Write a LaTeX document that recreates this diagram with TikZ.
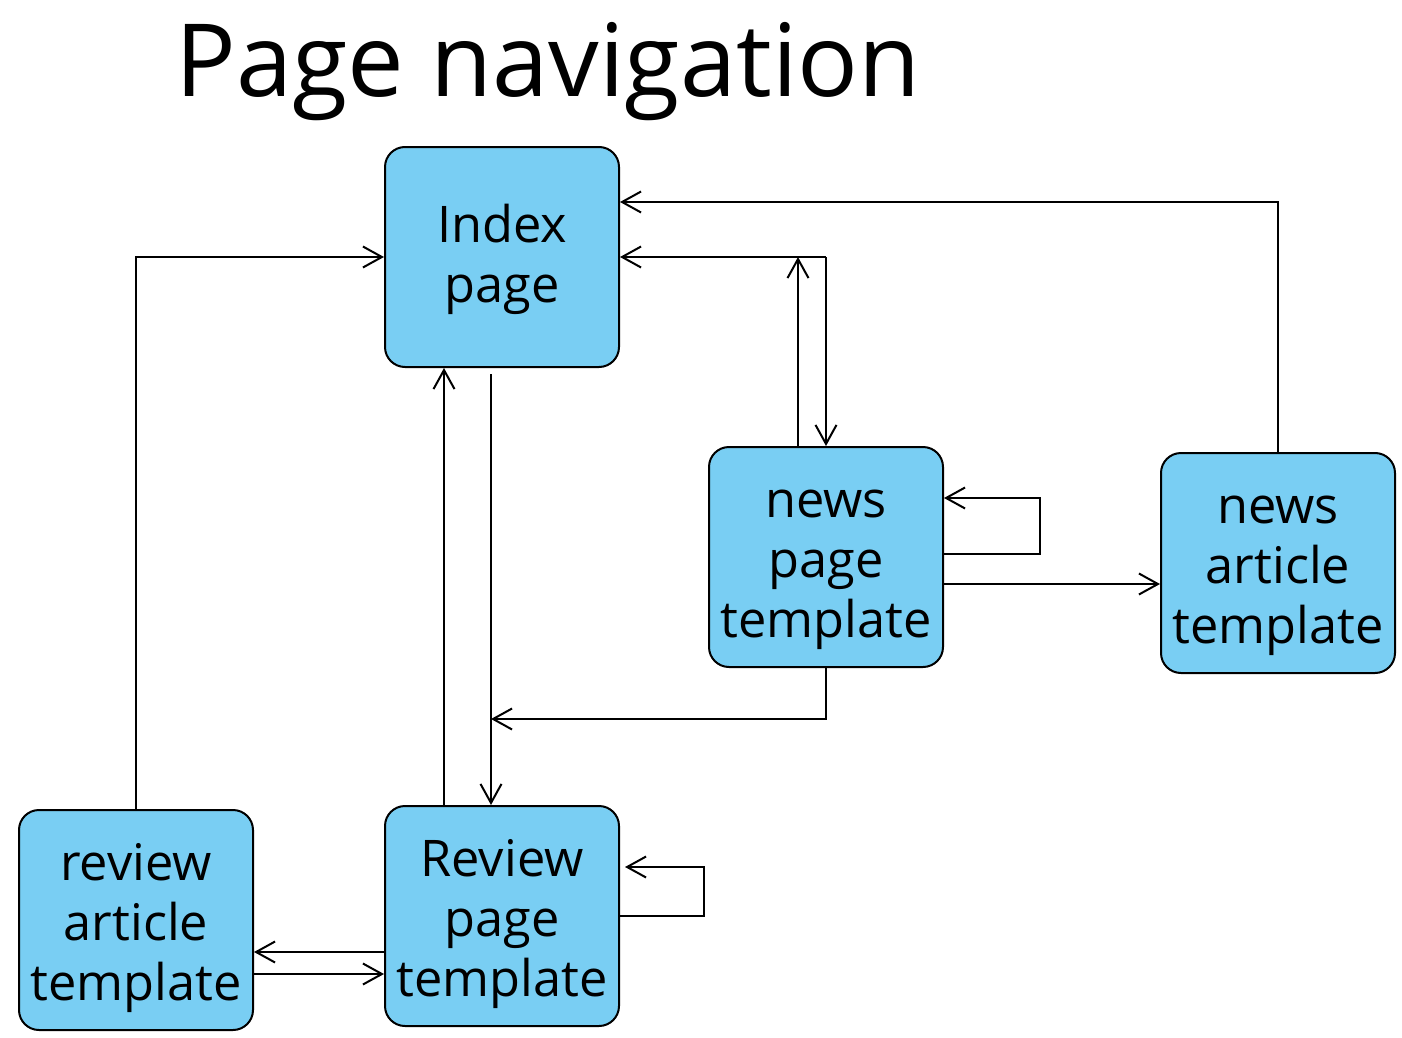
\documentclass[tikz,border=0pt]{standalone}
\usepackage{fontspec}
\setmainfont{Open Sans}
\usetikzlibrary{arrows.meta,calc}
\definecolor{boxblue}{HTML}{79CEF3}
\tikzset{
  pagebox/.style={draw=black, line width=2pt, fill=boxblue, rounded corners=20pt,
    minimum width=234pt, minimum height=220pt, inner sep=0pt, align=center,
    font=\fontsize{50.5}{60}\selectfont},
  twoline/.style={text height=90pt, text depth=0pt},
  threeline/.style={text height=160pt, text depth=0pt},
  link/.style={draw=black, line width=2pt,
    -{Straight Barb[length=19pt,width=21pt,line width=2pt]}},
}
\begin{document}
\begin{tikzpicture}[x=1pt,y=-1pt]
\useasboundingbox (0,0) rectangle (1402,1038);

\node[anchor=base, font=\fontsize{101}{120}\selectfont] (title) at (548,97) {Page navigation};

\node[pagebox, twoline] (idx) at (502,257) {Index\\page};
\node[pagebox, threeline] (np)  at (826,557) {news\\page\\template};
\node[pagebox, threeline] (na)  at (1278,563) {news\\article\\template};
\node[pagebox, threeline] (ra)  at (136,920) {review\\article\\template};
\node[pagebox, threeline] (rp)  at (502,916) {Review\\page\\template};

% news article back to the index
\draw[link] (na.north) |- ([yshift=55]idx.east);
% news page up to the junction above it
\draw[link] ([xshift=-28]np.north) -- ([xshift=-28]np.north |- idx.east);
\coordinate (j) at (idx.east -| np.north);
\draw[link] (j) -- (idx.east);
\draw[link] (j) -- (np.north);
% index <-> review page
\draw[link] ([xshift=-58]rp.north) -- ([xshift=-58]idx.south);
\draw[link] ([xshift=-11,yshift=-6]idx.south) -- ([xshift=-11]rp.north);
% news page down to the review page link
\coordinate (rpjoin) at (491,719);
\draw[link] (np.south) |- (rpjoin);
% news page self loop
\draw[link] ([yshift=3]np.east) -- ++(96,0) |- ([yshift=59]np.east);
% news page to news article
\draw[link] ([yshift=-27]np.east) -- ([yshift=-27]np.east -| na.west);
% review article back to the index
\draw[link] (ra.north) |- (idx.west);
% review page self loop
\draw[link] (rp.east) -- ++(84,0) |- ([xshift=5,yshift=49]rp.east);
% review page <-> review article
\draw[link] ([yshift=-36]rp.west) -- ([yshift=-36]rp.west -| ra.east);
\draw[link] ([yshift=-54]ra.east) -- ([yshift=-54]ra.east -| rp.west);
\end{tikzpicture}
\end{document}
